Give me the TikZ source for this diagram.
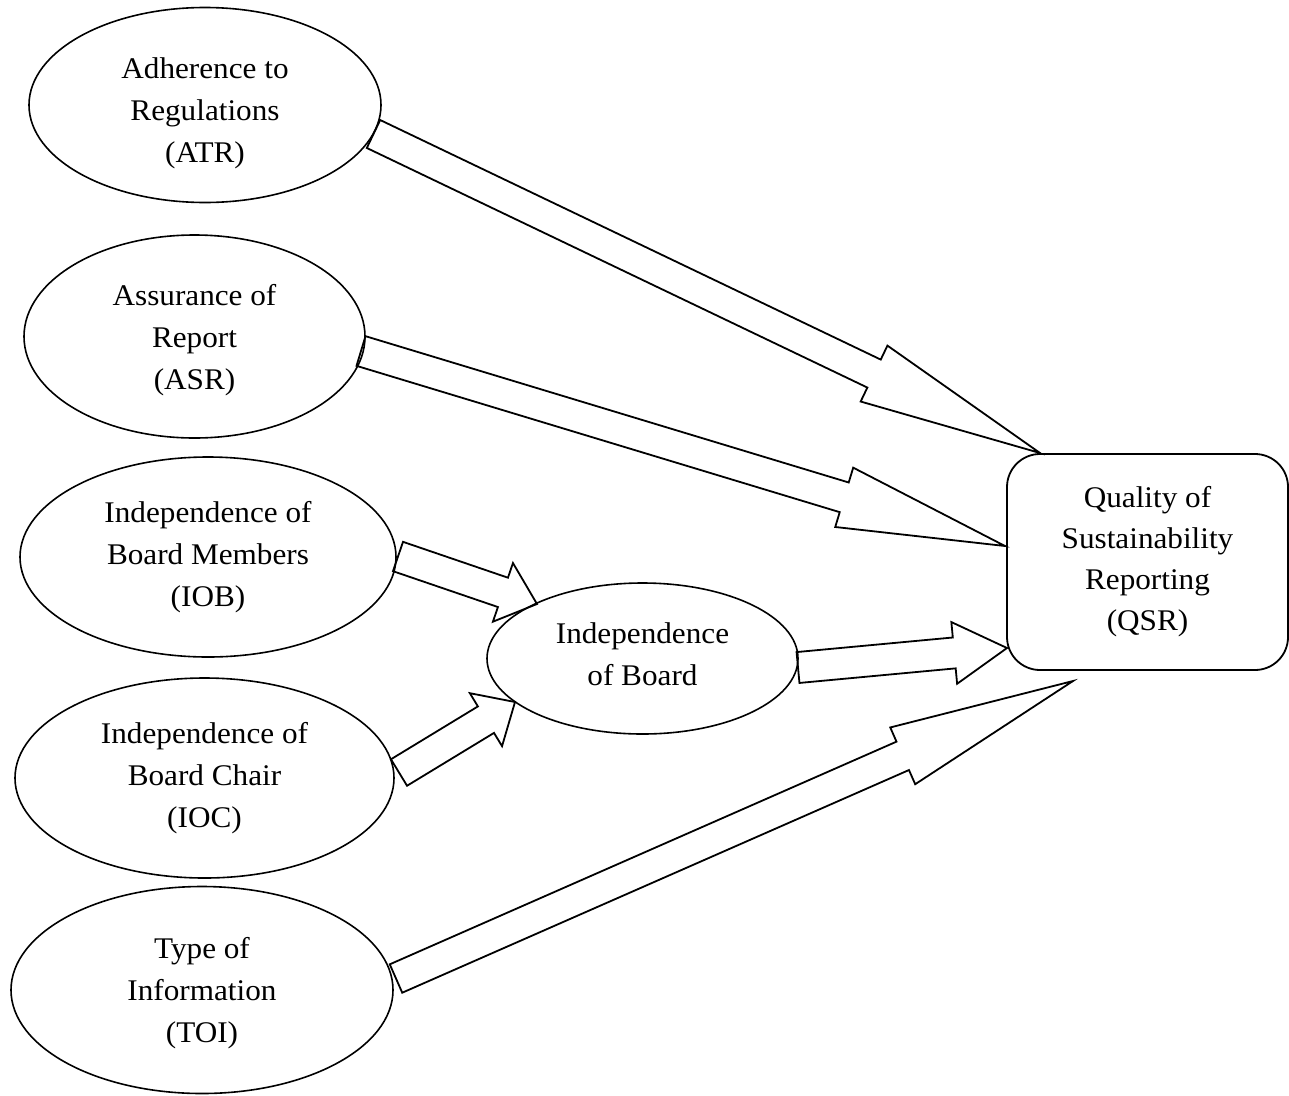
\documentclass[tikz,border=0pt]{standalone}
\usepackage{fontspec}
\setmainfont{Liberation Serif}[FakeStretch=1.04]
\usetikzlibrary{shapes.geometric,calc}

\tikzset{
  labeltext/.style={align=center, inner sep=0pt, font=\fontsize{30}{42}\selectfont},
  factor/.style={ellipse, draw, line width=1.6pt, inner sep=0pt, outer sep=0pt},
  outcome/.style={rectangle, rounded corners=33pt, draw, line width=1.8pt, inner sep=0pt,
    outer sep=0pt, minimum width=281pt, minimum height=216pt, labeltext,
    font=\fontsize{30}{41}\selectfont},
  blockline/.style={draw, line width=1.8pt, line join=miter},
}

% Outlined block arrow: #1 tail, #2 tip, #3 half shaft width, #4 half head width, #5 head length
\newcommand\blockarrow[5]{%
  \coordinate (ba-neck) at ($(#2)!#5!(#1)$);
  \draw[blockline]
    ($(#1)!#3!90:(#2)$) -- ($(ba-neck)!#3!90:(#2)$) -- ($(ba-neck)!#4!90:(#2)$) -- (#2)
    -- ($(ba-neck)!#4!-90:(#2)$) -- ($(ba-neck)!#3!-90:(#2)$) -- ($(#1)!#3!-90:(#2)$) -- cycle;
}

\begin{document}
\begin{tikzpicture}[x=1pt,y=-1pt]
\useasboundingbox (0,0) rectangle (1289,1095);

% determinants
\node[factor, minimum width=352pt, minimum height=195pt] (atr) at (205,105) {};
\node[factor, minimum width=341pt, minimum height=203pt] (asr) at (194.5,336.5) {};
\node[factor, minimum width=376pt, minimum height=200pt] (iob) at (208,557) {};
\node[factor, minimum width=379pt, minimum height=200pt] (ioc) at (204.5,778) {};
\node[factor, minimum width=382pt, minimum height=207pt] (toi) at (202,990) {};

% mediating construct
\node[factor, minimum width=311pt, minimum height=151pt] (iboard) at (642.5,658.5) {};

% labels of the constructs
\node[labeltext] (atr-txt) at ($(atr.center)+(0,8)$) {Adherence to\\Regulations\\(ATR)};
\node[labeltext] (asr-txt) at ($(asr.center)+(0,4)$) {Assurance of\\Report\\(ASR)};
\node[labeltext] (iob-txt) at ($(iob.center)+(0,0)$) {Independence of\\Board Members\\(IOB)};
\node[labeltext] (ioc-txt) at ($(ioc.center)+(0,0)$) {Independence of\\Board Chair\\(IOC)};
\node[labeltext] (toi-txt) at ($(toi.center)+(0,3)$) {Type of\\Information\\(TOI)};
\node[labeltext] (iboard-txt) at ($(iboard.center)+(0,-4)$) {Independence\\of Board};

% outcome
\node[outcome] (qsr) at (1147.5,562) {Quality of\\Sustainability\\Reporting\\(QSR)};

% arrow ends
\coordinate (atr-t) at ($(atr.center)+(168.5,29)$);
\coordinate (atr-h) at ($(qsr.center)+(-107.5,-109)$);
\coordinate (asr-t) at ($(asr.center)+(166.5,14.5)$);
\coordinate (asr-h) at ($(qsr.center)+(-142.5,-16)$);
\coordinate (iob-t) at ($(iob.center)+(190,-0.5)$);
\coordinate (iob-h) at ($(iboard.center)+(-105.5,-54.5)$);
\coordinate (ioc-t) at ($(ioc.center)+(194.5,-5.5)$);
\coordinate (ioc-h) at ($(iboard.center)+(-127.5,43.5)$);
\coordinate (ib-t)  at ($(iboard.center)+(155.5,9)$);
\coordinate (ib-h)  at ($(qsr.center)+(-140.5,86)$);
\coordinate (toi-t) at ($(toi.center)+(194,-11.5)$);
\coordinate (toi-h) at ($(qsr.center)+(-74.5,119)$);

% block arrows
\blockarrow{atr-t}{atr-h}{15.5pt}{31pt}{184pt}
\blockarrow{asr-t}{asr-h}{15.5pt}{31pt}{168pt}
\blockarrow{iob-t}{iob-h}{15.5pt}{31pt}{36pt}
\blockarrow{ioc-t}{ioc-h}{15.5pt}{31pt}{34pt}
\blockarrow{ib-t}{ib-h}{15.5pt}{31pt}{53pt}
\blockarrow{toi-t}{toi-h}{15.5pt}{31pt}{186pt}
\end{tikzpicture}
\end{document}
